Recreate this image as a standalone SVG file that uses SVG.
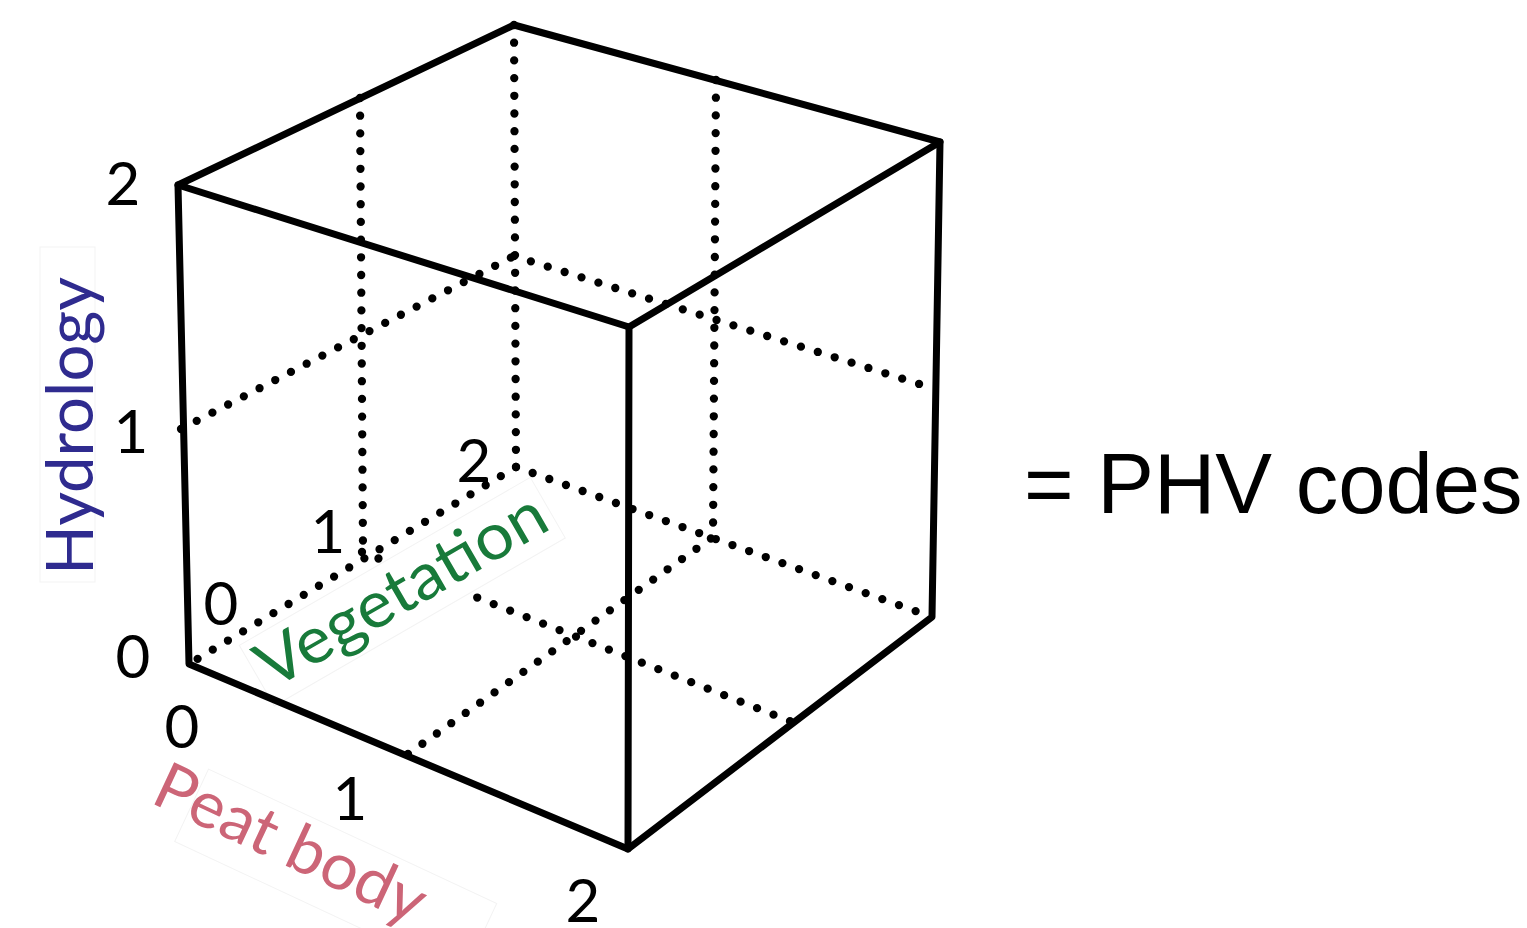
<svg xmlns="http://www.w3.org/2000/svg" width="1527" height="928" viewBox="0 0 1527 928">
<style>
.solid{fill:none;stroke:#000;stroke-width:7;stroke-linejoin:round;stroke-linecap:round}
.dot{fill:none;stroke:#000;stroke-width:8.3;stroke-linecap:round;stroke-dasharray:0 17.7}
.num{font-family:Lato,"Liberation Sans",sans-serif;font-size:60px;fill:#000;text-anchor:middle}
.lab{font-family:Lato,"Liberation Sans",sans-serif;font-size:65px}
.box{fill:#fff;stroke:#f3f3f3;stroke-width:1}
</style>
<rect width="1527" height="928" fill="#fff"/>
<g id="connectors">
  <g id="hidden-lines">
    <line class="dot" x1="514" y1="25" x2="516" y2="467"/>
    <line class="dot" x1="516" y1="467" x2="189" y2="664"/>
    <line class="dot" x1="516" y1="467" x2="932" y2="617"/>
    <line class="dot" x1="360" y1="98" x2="363" y2="550"/>
    <line class="dot" x1="716" y1="80" x2="713" y2="537"/>
    <line class="dot" x1="181" y1="429" x2="514" y2="256"/>
    <line class="dot" x1="514" y1="256" x2="935" y2="389"/>
    <line class="dot" x1="408" y1="754" x2="713" y2="537"/>
    <line class="dot" x1="362" y1="552" x2="792" y2="722"/>
  </g>
</g>
<g id="axis-hydrology">
  <rect class="box" x="40" y="247" width="55" height="335"/>
  <text class="lab" transform="translate(93,575) rotate(-90)" fill="#2f2b8f" textLength="298" lengthAdjust="spacingAndGlyphs">Hydrology</text>
  <text class="num" x="123" y="205">2</text>
  <text class="num" x="131" y="453">1</text>
  <text class="num" x="133" y="678">0</text>
</g>
<g id="axis-vegetation">
  <g transform="translate(272,690) rotate(-30)">
    <rect class="box" x="-6" y="-55" width="336" height="70"/>
    <text class="lab" x="0" y="0" fill="#187a3a" textLength="324" lengthAdjust="spacingAndGlyphs">Vegetation</text>
  </g>
  <text class="num" x="221" y="625">0</text>
  <text class="num" x="328" y="553">1</text>
  <text class="num" x="474" y="482">2</text>
</g>
<g id="axis-peat">
  <g transform="translate(149,802) rotate(25)">
    <rect class="box" x="40" y="-55" width="318" height="80"/>
    <text class="lab" x="0" y="0" fill="#cc6577" textLength="292" lengthAdjust="spacingAndGlyphs">Peat body</text>
  </g>
  <text class="num" x="182" y="748">0</text>
  <text class="num" x="350" y="820">1</text>
  <text class="num" x="583" y="922">2</text>
</g>
<g id="cube">
  <polygon class="solid" points="178,185 514,25 940,142 629,327"/>
  <polyline class="solid" points="178,185 189,664 628,849 932,617 940,142"/>
  <line class="solid" x1="629" y1="327" x2="628" y2="849"/>
</g>
<g id="caption">
  <text x="1024" y="513" font-family="'Liberation Sans',Arial,sans-serif" font-size="85" fill="#000">= PHV codes</text>
</g>
</svg>
